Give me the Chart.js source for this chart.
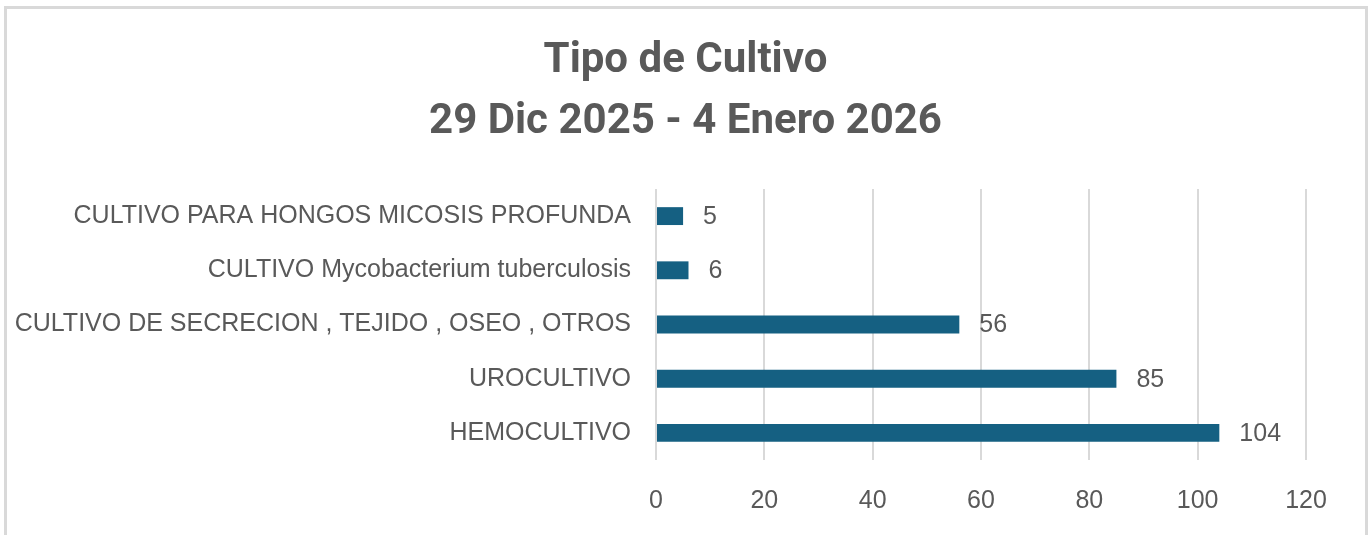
<!DOCTYPE html>
<html>
<head>
<meta charset="utf-8">
<script src="https://cdn.jsdelivr.net/npm/chart.js@4"></script>
<style>
  body { margin: 0; background: #fff; overflow: hidden; }
  #wrap { position: relative; width: 1371px; height: 535px; }
  #frame {
    position: absolute; left: 4px; top: 6px; width: 1364px; height: 600px;
    border: 3px solid #d9d9d9; box-sizing: border-box; pointer-events: none;
  }
</style>
</head>
<body>
<div id="wrap">
  <canvas id="chart" width="1371" height="535"></canvas>
  <div id="frame"></div>
</div>
<script>
const titleLines = ["Tipo de Cultivo", "29 Dic 2025 - 4 Enero 2026"];
const categories = [
  "CULTIVO PARA HONGOS MICOSIS PROFUNDA",
  "CULTIVO Mycobacterium tuberculosis",
  "CULTIVO DE SECRECION , TEJIDO , OSEO , OTROS",
  "UROCULTIVO",
  "HEMOCULTIVO",
];
const counts = [5, 6, 56, 85, 104];
const axisMin = 0;
const axisMax = 120;
const axisStep = 20;

const textGray = "#595959";
const barBlue = "#156082";
const labelFont = { family: "Liberation Sans", size: 25 };

// title centred on the whole canvas (the built-in one centres on the padded box)
const centeredTitle = {
  id: "centeredTitle",
  afterDraw(chart) {
    const ctx = chart.ctx;
    ctx.save();
    ctx.font = "bold 42px Roboto";
    ctx.fillStyle = textGray;
    ctx.textAlign = "center";
    ctx.textBaseline = "alphabetic";
    ctx.fillText(titleLines[0], chart.width / 2, 72);
    ctx.fillText(titleLines[1], chart.width / 2, 133);
    ctx.restore();
  },
};

// value labels to the right of each bar
const barValues = {
  id: "barValues",
  afterDatasetsDraw(chart) {
    const ctx = chart.ctx;
    const meta = chart.getDatasetMeta(0);
    ctx.save();
    ctx.font = `${labelFont.size}px ${labelFont.family}`;
    ctx.fillStyle = textGray;
    ctx.textAlign = "left";
    ctx.textBaseline = "middle";
    meta.data.forEach((bar, i) => {
      ctx.fillText(String(counts[i]), bar.x + 20, bar.y + 1);
    });
    ctx.restore();
  },
};

new Chart(document.getElementById("chart"), {
  type: "bar",
  data: {
    labels: categories,
    datasets: [
      {
        data: counts,
        backgroundColor: barBlue,
        borderWidth: 0,
        barPercentage: 0.66,
        categoryPercentage: 0.5,
      },
    ],
  },
  options: {
    indexAxis: "y",
    responsive: false,
    devicePixelRatio: 1,
    animation: false,
    layout: { padding: { left: 0, right: 65, top: 189, bottom: 0 } },
    plugins: {
      legend: { display: false },
      tooltip: { enabled: false },
      title: { display: false },
    },
    scales: {
      x: {
        min: axisMin,
        max: axisMax,
        ticks: {
          stepSize: axisStep,
          color: textGray,
          font: labelFont,
          padding: 26,
        },
        grid: { color: "#d9d9d9", lineWidth: 2, drawTicks: false },
        border: { display: false },
        afterFit(scale) { scale.height = 75; },
      },
      y: {
        ticks: { color: textGray, font: labelFont, padding: 17 },
        grid: { display: false },
        border: { display: false },
        afterFit(scale) { scale.width = 656; },
      },
    },
  },
  plugins: [barValues, centeredTitle],
});
</script>
</body>
</html>
